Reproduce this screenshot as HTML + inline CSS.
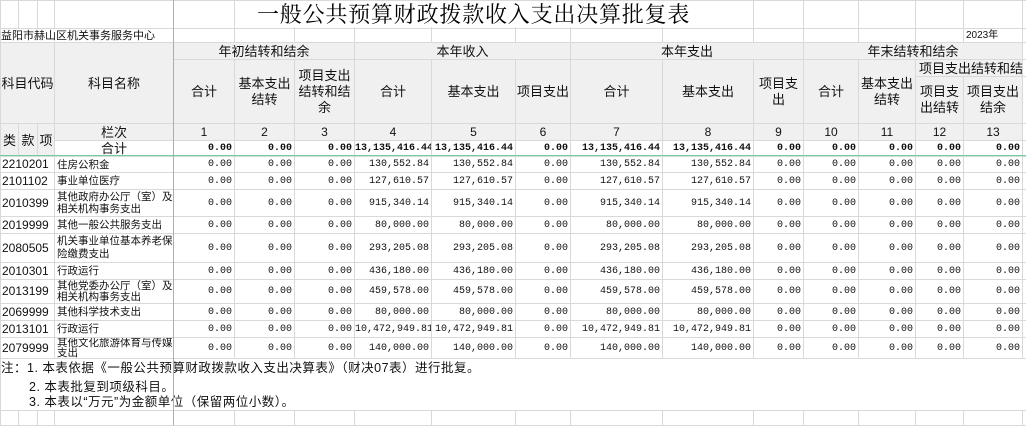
<!DOCTYPE html>
<html><head><meta charset="utf-8"><style>
body{margin:0;width:1026px;height:425px;overflow:hidden;background:#fff;font-family:"Liberation Sans","Noto Sans CJK SC",sans-serif;position:relative}
table{border-collapse:collapse;table-layout:fixed;position:absolute;left:0;top:0;width:1026px}
td{border:1px solid #d9d9d9;padding:0;font-size:12px;color:#111;overflow:hidden;white-space:nowrap;line-height:13px}
.g{background:#f0f0f0}
.c{text-align:center}
.w{white-space:nowrap}
.n{text-align:right;font-family:"Liberation Mono",monospace;font-size:10px;padding-right:2px}
.b{font-weight:bold}
.nm{white-space:nowrap;font-size:10.5px;padding-left:2px;line-height:12px}
.cd{font-size:12px;padding-left:1px}
.note{font-size:12.5px;white-space:nowrap;border-left:1px solid #d9d9d9;border-right:none;overflow:visible}
</style></head><body>
<table>
<colgroup>
<col style="width:18px"><col style="width:19px"><col style="width:17px"><col style="width:119px">
<col style="width:61px"><col style="width:60px"><col style="width:60px"><col style="width:77px"><col style="width:84px"><col style="width:55px"><col style="width:92px"><col style="width:91px"><col style="width:50px"><col style="width:55px"><col style="width:57px"><col style="width:48px"><col style="width:59px"><col style="width:4px">
</colgroup>
<tr style="height:28px"><td></td><td></td><td></td><td></td><td></td><td></td><td></td><td></td><td></td><td></td><td></td><td></td><td></td><td></td><td></td><td></td><td></td><td></td></tr>
<tr style="height:14px"><td colspan="4" style="font-size:11px;line-height:12px">益阳市赫山区机关事务服务中心</td><td></td><td></td><td></td><td></td><td></td><td></td><td></td><td></td><td></td><td></td><td></td><td></td><td style="font-size:10px;padding-left:2px;line-height:12px">2023年</td><td></td></tr>
<tr style="height:17px">
<td colspan="3" rowspan="3" class="g c" style="font-size:13px">科目代码</td>
<td rowspan="3" class="g c" style="font-size:13px">科目名称</td>
<td colspan="3" class="g c" style="font-size:13px">年初结转和结余</td>
<td colspan="3" class="g c" style="font-size:13px">本年收入</td>
<td colspan="3" class="g c" style="font-size:13px">本年支出</td>
<td colspan="4" class="g c" style="font-size:13px">年末结转和结余</td><td></td></tr>
<tr style="height:17px">
<td rowspan="2" class="g c" style="font-size:13px">合计</td>
<td rowspan="2" class="g c w" style="font-size:13px;line-height:16px">基本支出<br>结转</td>
<td rowspan="2" class="g c w" style="font-size:13px;line-height:16px">项目支出<br>结转和结<br>余</td>
<td rowspan="2" class="g c" style="font-size:13px">合计</td>
<td rowspan="2" class="g c" style="font-size:13px">基本支出</td>
<td rowspan="2" class="g c" style="font-size:13px">项目支出</td>
<td rowspan="2" class="g c" style="font-size:13px">合计</td>
<td rowspan="2" class="g c" style="font-size:13px">基本支出</td>
<td rowspan="2" class="g c w" style="font-size:13px;line-height:16px">项目支<br>出</td>
<td rowspan="2" class="g c" style="font-size:13px">合计</td>
<td rowspan="2" class="g c w" style="font-size:13px;line-height:16px">基本支出<br>结转</td>
<td colspan="2" class="g" style="font-size:13px;padding-left:3px">项目支出结转和结</td><td></td></tr>
<tr style="height:47px">
<td class="g c w" style="font-size:13px;line-height:16px">项目支<br>出结转</td>
<td class="g c w" style="font-size:13px;line-height:16px">项目支出<br>结余</td><td></td></tr>
<tr style="height:17px">
<td rowspan="2" class="g c" style="font-size:13px">类</td><td rowspan="2" class="g c" style="font-size:13px">款</td><td rowspan="2" class="g c" style="font-size:13px">项</td>
<td class="g c" style="font-size:13px">栏次</td>
<td class="g c">1</td><td class="g c">2</td><td class="g c">3</td><td class="g c">4</td><td class="g c">5</td><td class="g c">6</td><td class="g c">7</td><td class="g c">8</td><td class="g c">9</td><td class="g c">10</td><td class="g c">11</td><td class="g c">12</td><td class="g c">13</td><td></td></tr>
<tr style="height:16px">
<td class="c" style="font-size:13px">合计</td>
<td class="n b">0.00</td><td class="n b">0.00</td><td class="n b">0.00</td><td class="n b" style="padding-right:0">13,135,416.44</td><td class="n b">13,135,416.44</td><td class="n b">0.00</td><td class="n b">13,135,416.44</td><td class="n b">13,135,416.44</td><td class="n b">0.00</td><td class="n b">0.00</td><td class="n b">0.00</td><td class="n b">0.00</td><td class="n b">0.00</td><td></td></tr>
<tr style="height:16px"><td colspan="3" class="cd">2210201</td><td class="nm">住房公积金</td><td class="n">0.00</td><td class="n">0.00</td><td class="n">0.00</td><td class="n">130,552.84</td><td class="n">130,552.84</td><td class="n">0.00</td><td class="n">130,552.84</td><td class="n">130,552.84</td><td class="n">0.00</td><td class="n">0.00</td><td class="n">0.00</td><td class="n">0.00</td><td class="n">0.00</td><td></td></tr>
<tr style="height:17px"><td colspan="3" class="cd">2101102</td><td class="nm">事业单位医疗</td><td class="n">0.00</td><td class="n">0.00</td><td class="n">0.00</td><td class="n">127,610.57</td><td class="n">127,610.57</td><td class="n">0.00</td><td class="n">127,610.57</td><td class="n">127,610.57</td><td class="n">0.00</td><td class="n">0.00</td><td class="n">0.00</td><td class="n">0.00</td><td class="n">0.00</td><td></td></tr>
<tr style="height:27px"><td colspan="3" class="cd">2010399</td><td class="nm">其他政府办公厅（室）及<br>相关机构事务支出</td><td class="n">0.00</td><td class="n">0.00</td><td class="n">0.00</td><td class="n">915,340.14</td><td class="n">915,340.14</td><td class="n">0.00</td><td class="n">915,340.14</td><td class="n">915,340.14</td><td class="n">0.00</td><td class="n">0.00</td><td class="n">0.00</td><td class="n">0.00</td><td class="n">0.00</td><td></td></tr>
<tr style="height:17px"><td colspan="3" class="cd">2019999</td><td class="nm">其他一般公共服务支出</td><td class="n">0.00</td><td class="n">0.00</td><td class="n">0.00</td><td class="n">80,000.00</td><td class="n">80,000.00</td><td class="n">0.00</td><td class="n">80,000.00</td><td class="n">80,000.00</td><td class="n">0.00</td><td class="n">0.00</td><td class="n">0.00</td><td class="n">0.00</td><td class="n">0.00</td><td></td></tr>
<tr style="height:29px"><td colspan="3" class="cd">2080505</td><td class="nm" style="line-height:13px">机关事业单位基本养老保<br>险缴费支出</td><td class="n">0.00</td><td class="n">0.00</td><td class="n">0.00</td><td class="n">293,205.08</td><td class="n">293,205.08</td><td class="n">0.00</td><td class="n">293,205.08</td><td class="n">293,205.08</td><td class="n">0.00</td><td class="n">0.00</td><td class="n">0.00</td><td class="n">0.00</td><td class="n">0.00</td><td></td></tr>
<tr style="height:17px"><td colspan="3" class="cd">2010301</td><td class="nm">行政运行</td><td class="n">0.00</td><td class="n">0.00</td><td class="n">0.00</td><td class="n">436,180.00</td><td class="n">436,180.00</td><td class="n">0.00</td><td class="n">436,180.00</td><td class="n">436,180.00</td><td class="n">0.00</td><td class="n">0.00</td><td class="n">0.00</td><td class="n">0.00</td><td class="n">0.00</td><td></td></tr>
<tr style="height:24px"><td colspan="3" class="cd">2013199</td><td class="nm" style="line-height:11px">其他党委办公厅（室）及<br>相关机构事务支出</td><td class="n">0.00</td><td class="n">0.00</td><td class="n">0.00</td><td class="n">459,578.00</td><td class="n">459,578.00</td><td class="n">0.00</td><td class="n">459,578.00</td><td class="n">459,578.00</td><td class="n">0.00</td><td class="n">0.00</td><td class="n">0.00</td><td class="n">0.00</td><td class="n">0.00</td><td></td></tr>
<tr style="height:17px"><td colspan="3" class="cd">2069999</td><td class="nm">其他科学技术支出</td><td class="n">0.00</td><td class="n">0.00</td><td class="n">0.00</td><td class="n">80,000.00</td><td class="n">80,000.00</td><td class="n">0.00</td><td class="n">80,000.00</td><td class="n">80,000.00</td><td class="n">0.00</td><td class="n">0.00</td><td class="n">0.00</td><td class="n">0.00</td><td class="n">0.00</td><td></td></tr>
<tr style="height:17px"><td colspan="3" class="cd">2013101</td><td class="nm">行政运行</td><td class="n">0.00</td><td class="n">0.00</td><td class="n">0.00</td><td class="n">10,472,949.81</td><td class="n">10,472,949.81</td><td class="n">0.00</td><td class="n">10,472,949.81</td><td class="n">10,472,949.81</td><td class="n">0.00</td><td class="n">0.00</td><td class="n">0.00</td><td class="n">0.00</td><td class="n">0.00</td><td></td></tr>
<tr style="height:21px"><td colspan="3" class="cd">2079999</td><td class="nm" style="line-height:10px">其他文化旅游体育与传媒<br>支出</td><td class="n">0.00</td><td class="n">0.00</td><td class="n">0.00</td><td class="n">140,000.00</td><td class="n">140,000.00</td><td class="n">0.00</td><td class="n">140,000.00</td><td class="n">140,000.00</td><td class="n">0.00</td><td class="n">0.00</td><td class="n">0.00</td><td class="n">0.00</td><td class="n">0.00</td><td></td></tr>
<tr style="height:20px"><td colspan="18" class="note" style="border-bottom:none;letter-spacing:0.5px">注：1. 本表依据《一般公共预算财政拨款收入支出决算表》（财决07表）进行批复。</td></tr>
<tr style="height:17px"><td colspan="18" class="note" style="border-top:none;border-bottom:none;padding-left:28px;letter-spacing:0.5px">2. 本表批复到项级科目。</td></tr>
<tr style="height:15px"><td colspan="18" class="note" style="border-top:none;padding-left:28px;letter-spacing:0.5px">3. 本表以“万元”为金额单位（保留两位小数）。</td></tr>
<tr style="height:15px"><td></td><td></td><td></td><td></td><td></td><td></td><td></td><td></td><td></td><td></td><td></td><td></td><td></td><td></td><td></td><td></td><td></td><td></td></tr>
</table>
<div style="position:absolute;left:257px;top:1px;height:26px;white-space:nowrap;background:#fff;font-family:'Noto Serif CJK SC',serif;font-size:22px;line-height:26px;letter-spacing:0.8px;color:#000">一般公共预算财政拨款收入支出决算批复表</div>
<div style="position:absolute;left:173px;top:0;width:1px;height:425px;background:#6fcf9f"></div>
<div style="position:absolute;left:0;top:155px;width:1026px;height:1px;background:#6fcf9f"></div>
</body></html>
